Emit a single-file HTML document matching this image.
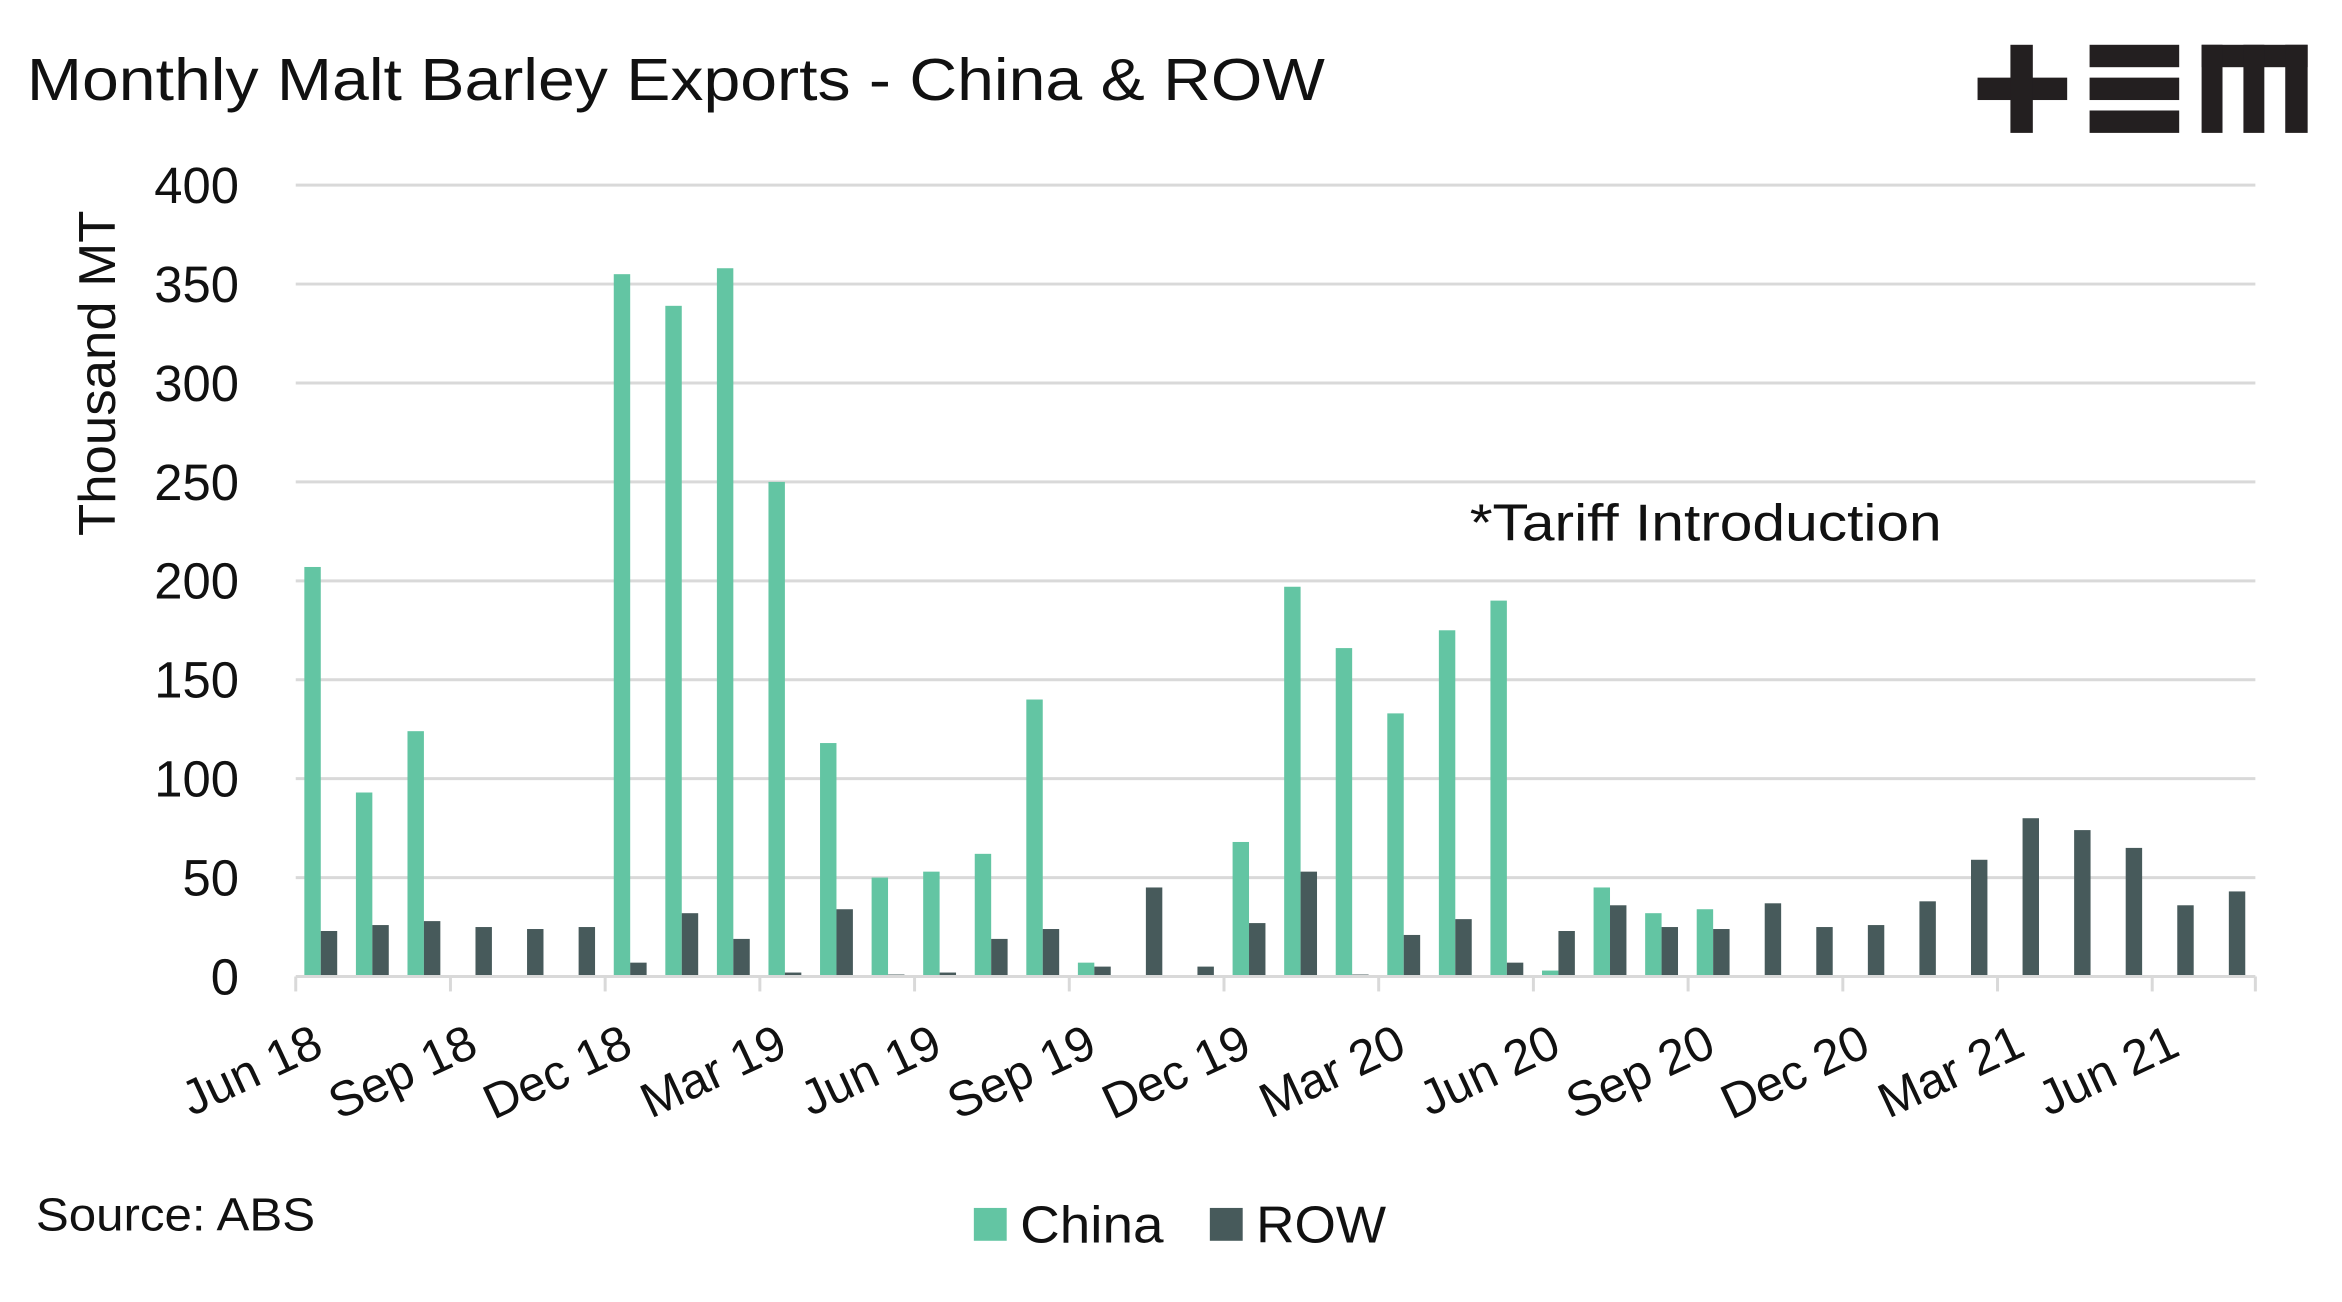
<!DOCTYPE html>
<html><head><meta charset="utf-8"><style>
html,body{margin:0;padding:0;background:#fff;}
svg{display:block;font-family:"Liberation Sans",sans-serif;}
</style></head><body>
<svg id="chart" width="2342" height="1302" viewBox="0 0 1568 872" preserveAspectRatio="none" xmlns="http://www.w3.org/2000/svg">
<rect width="1568" height="872" fill="#fff"/>
<text x="18" y="67" font-size="40" fill="#111" textLength="869" lengthAdjust="spacingAndGlyphs">Monthly Malt Barley Exports - China &amp; ROW</text>
<g fill="#231f20">
<rect x="1324" y="52" width="60" height="15"/><rect x="1346" y="30" width="15" height="59"/>
<rect x="1399" y="30" width="60" height="15"/><rect x="1399" y="52" width="60" height="15"/><rect x="1399" y="74" width="60" height="15"/>
<rect x="1474" y="30" width="71" height="15"/><rect x="1474" y="30" width="14" height="59"/><rect x="1502" y="30" width="14" height="59"/><rect x="1530" y="30" width="15" height="59"/>
</g>
<text transform="translate(77,250) rotate(-90)" text-anchor="middle" font-size="35" fill="#111" textLength="218" lengthAdjust="spacingAndGlyphs">Thousand MT</text>
<g id="grid"></g><g id="bars"></g><g id="xaxis"></g>
<text x="984" y="362" font-size="35" fill="#111" textLength="316" lengthAdjust="spacingAndGlyphs">*Tariff Introduction</text>
<text x="24" y="824" font-size="31" fill="#111" textLength="187" lengthAdjust="spacingAndGlyphs">Source: ABS</text>
<g>
<rect x="652" y="809" width="22" height="22" fill="#63c5a3"/>
<text x="683" y="832" font-size="35" fill="#111" textLength="96" lengthAdjust="spacingAndGlyphs">China</text>
<rect x="810" y="809" width="22" height="22" fill="#475a5b"/>
<text x="841" y="832" font-size="35" fill="#111" textLength="87" lengthAdjust="spacingAndGlyphs">ROW</text>
</g>
</svg>
<script>
const months=["Jun 18","Jul 18","Aug 18","Sep 18","Oct 18","Nov 18","Dec 18","Jan 19","Feb 19","Mar 19","Apr 19","May 19","Jun 19","Jul 19","Aug 19","Sep 19","Oct 19","Nov 19","Dec 19","Jan 20","Feb 20","Mar 20","Apr 20","May 20","Jun 20","Jul 20","Aug 20","Sep 20","Oct 20","Nov 20","Dec 20","Jan 21","Feb 21","Mar 21","Apr 21","May 21","Jun 21","Jul 21"];
const china=[207,93,124,0,0,0,355,339,358,250,118,50,53,62,140,7,0,0,68,197,166,133,175,190,3,45,32,34,0,0,0,0,0,0,0,0,0,0];
const row=[23,26,28,25,24,25,7,32,19,2,34,1,2,19,24,5,45,5,27,53,1,21,29,7,23,36,25,24,37,25,26,38,59,80,74,65,36,43];
const yTicks=[0,50,100,150,200,250,300,350,400];
const NS="http://www.w3.org/2000/svg";
const x0=198,x1=1510,y0=654,yTop=124,yMax=400;
const cw=(x1-x0)/months.length;
const y=v=>y0-(v/yMax)*(y0-yTop);
const xc=i=>x0+i*cw;
function mk(t,a,p){const e=document.createElementNS(NS,t);for(const k in a)e.setAttribute(k,a[k]);p.appendChild(e);return e;}
const grid=document.getElementById('grid'),bars=document.getElementById('bars'),xa=document.getElementById('xaxis');
yTicks.forEach(v=>{
 if(v>0){const l=mk('line',{x1:x0,x2:x1,y1:y(v),y2:y(v),stroke:'#d9d9d9','stroke-width':2},grid);
 
 }
 const t=mk('text',{x:160,y:y(v)+12,'text-anchor':'end','font-size':34,fill:'#111'},grid);t.textContent=v;
 
 
});
const bw=11;
months.forEach((m,i)=>{
 const cx=xc(i)+cw/2;
 const a=mk('rect',{x:cx-bw-0.5,y:y(china[i]),width:bw,height:y0-y(china[i]),fill:'#63c5a3'},bars);
 
 
 const b=mk('rect',{x:cx-0.5,y:y(row[i]),width:bw,height:y0-y(row[i]),fill:'#475a5b'},bars);
 
 
 if(i%3===0){
  mk('line',{x1:xc(i),x2:xc(i),y1:y0,y2:y0+10,stroke:'#d9d9d9','stroke-width':2},xa);
  const t=mk('text',{transform:`translate(${xc(i)+20},${y0+52}) rotate(-25)`,'text-anchor':'end','font-size':33,fill:'#111'},xa);
  t.textContent=m;
  
  
 }
});
mk('line',{x1:x1,x2:x1,y1:y0,y2:y0+10,stroke:'#d9d9d9','stroke-width':2},xa);
const ax=mk('line',{x1:x0,x2:x1,y1:y0,y2:y0,stroke:'#d9d9d9','stroke-width':2},xa);


</script>
</body></html>
